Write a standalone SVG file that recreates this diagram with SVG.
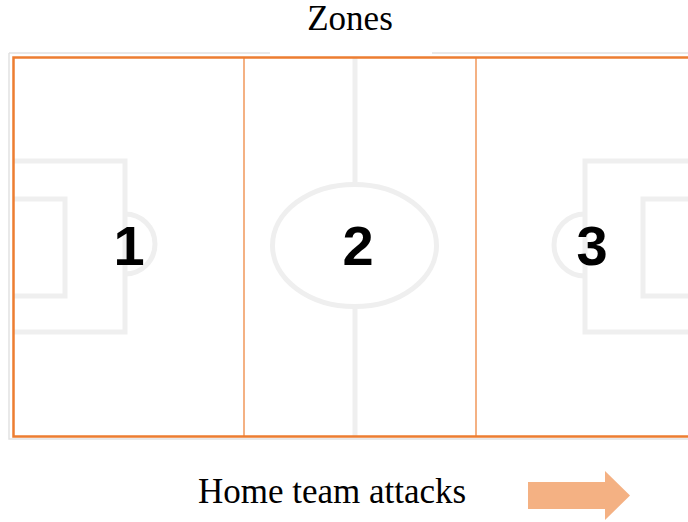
<svg xmlns="http://www.w3.org/2000/svg" width="688" height="522" viewBox="0 0 688 522">
<style>
.mark{fill:none;stroke:#efefef;stroke-width:5}
.num{font-family:"Liberation Sans",Arial,sans-serif;font-weight:bold;font-size:56px;fill:#000;text-anchor:middle}
.lbl{font-family:"Liberation Serif","Times New Roman",serif;font-size:35px;fill:#000;text-anchor:middle}
.zone{fill:none;stroke:#F4B183;stroke-width:2}
</style>
<rect width="688" height="522" fill="#fff"/>
<g id="pitch">
<path d="M9,53 H270 M432,53 H688 M9,53 V439 H688" fill="none" stroke="#e2e2e2" stroke-width="1.5"/>
<line class="mark" x1="355" y1="58" x2="355" y2="184"/>
<line class="mark" x1="355" y1="307" x2="355" y2="436"/>
<ellipse class="mark" cx="354.5" cy="245.5" rx="82" ry="61"/>
<path class="mark" d="M13,161 H125 V332 H13"/>
<path class="mark" d="M13,199 H65 V296 H13"/>
<path class="mark" d="M125,214 A30,30 0 0 1 125,274"/>
<path class="mark" d="M688,161 H585 V332 H688"/>
<path class="mark" d="M688,199 H643 V296 H688"/>
<path class="mark" d="M585,214 A30,30 0 0 0 585,276"/>
</g>
<g id="zones">
<line class="zone" x1="244" y1="58" x2="244" y2="436"/>
<line class="zone" x1="476" y1="58" x2="476" y2="436"/>
<path d="M690,57.5 H13.5 V436.5 H690" fill="none" stroke="#ED7D31" stroke-width="2.5"/>
</g>
<g id="zone1"><text class="num" x="129" y="265">1</text></g>
<g id="zone2"><text class="num" x="358" y="265">2</text></g>
<g id="zone3"><text class="num" x="592" y="265">3</text></g>
<g id="title"><text class="lbl" x="350" y="30" font-size="33">Zones</text></g>
<g id="caption"><text class="lbl" x="332" y="503">Home team attacks</text></g>
<g id="arrow"><polygon points="528,482 605,482 605,471 630,495.5 605,520 605,509 528,509" fill="#F4B183"/></g>
</svg>
